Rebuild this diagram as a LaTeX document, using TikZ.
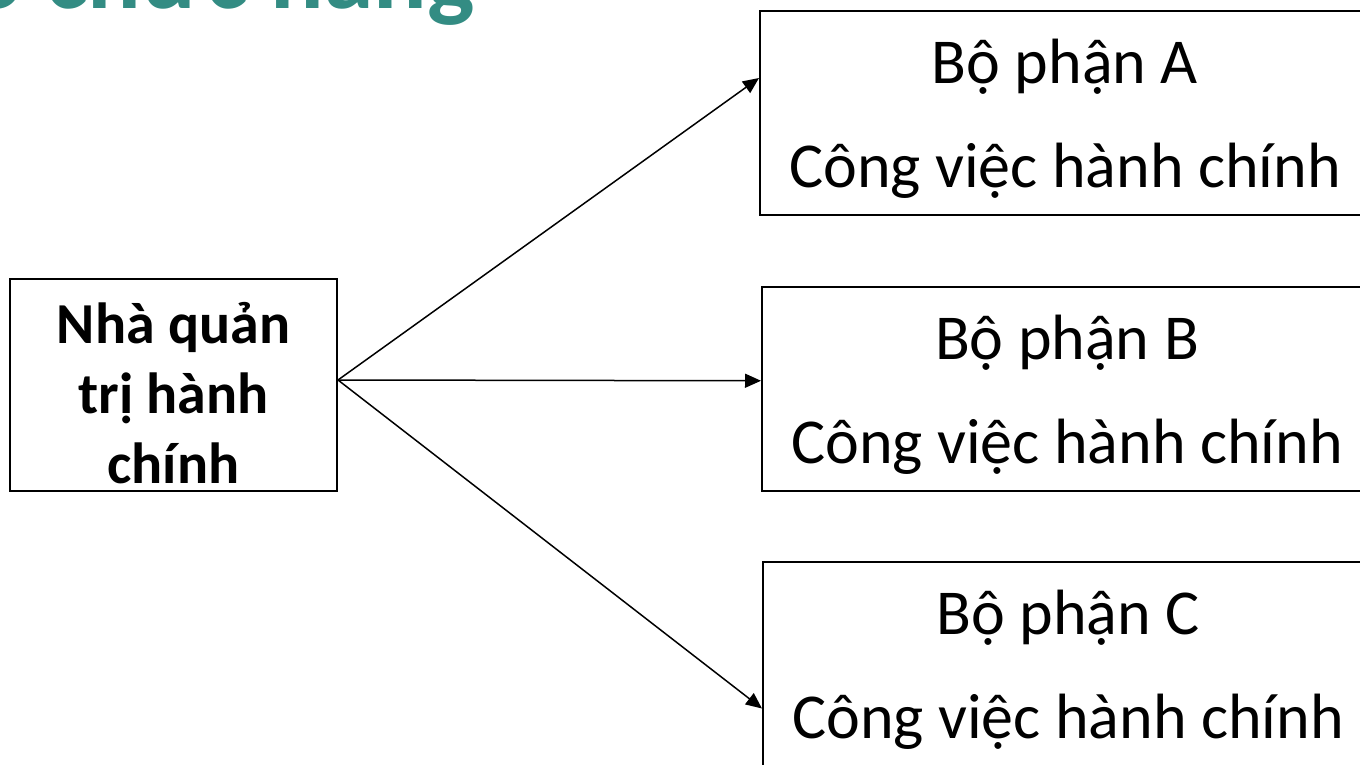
\documentclass[tikz,border=0pt]{standalone}
\usepackage{fontspec}
\setmainfont{Carlito}
\usepackage{xcolor}
\usetikzlibrary{calc,
	positioning,
	arrows.meta,
	shapes}
\definecolor{tieude}{RGB}{51,140,131}
\tikzstyle{bp}=[draw, line width=1pt, inner sep=0, align=center,
		minimum width=305pt, text height=88pt, text depth=14pt,
		font=\fontsize{32}{52}\selectfont]
\tikzstyle{nqt}=[draw, line width=1pt, inner sep=0, align=center,
		minimum width=163.5pt, text height=102pt, text depth=4pt,
		font=\fontsize{29}{35}\selectfont\bfseries]
\tikzstyle{mt}=[line width=0.75pt, -{Triangle[length=8pt, width=7pt]}]

\begin{document}
\begin{tikzpicture}[x=0.5pt, y=-0.5pt]
                \useasboundingbox (0,0) rectangle (1360,765);
                % tieu de (bi cat o tren)
                \node[anchor=base west, inner sep=0, text=tieude,
                    font=\fontsize{50}{60}\selectfont\bfseries] (td) at (-31,9) {o chức năng};
                % nha quan tri
                \node[nqt] (nq) at (173.5,385) {Nhà quản\\trị hành\\chính};
                % cac bo phan
                \node[bp] (bpa) at (1065,113) {Bộ phận A\\Công việc hành chính};
                \node[bp] (bpb) at (1067,389) {Bộ phận B\\Công việc hành chính};
                \node[bp] (bpc) at (1068,664) {Bộ phận C\\Công việc hành chính};
                \coordinate (goc) at ([yshift=2.5pt]nq.east);
                \coordinate (da) at ($(bpa.north west)!0.33!(bpa.south west)$);
                \coordinate (db) at ($(bpb.north west)!0.46!(bpb.south west)$);
                \coordinate (dc) at ($(bpc.north west)!0.716!(bpc.south west)$);
                \draw[mt] (goc) -- (da);
                \draw[mt] (goc) -- (db);
                \draw[mt] (goc) -- (dc);
            \end{tikzpicture}
\end{document}
